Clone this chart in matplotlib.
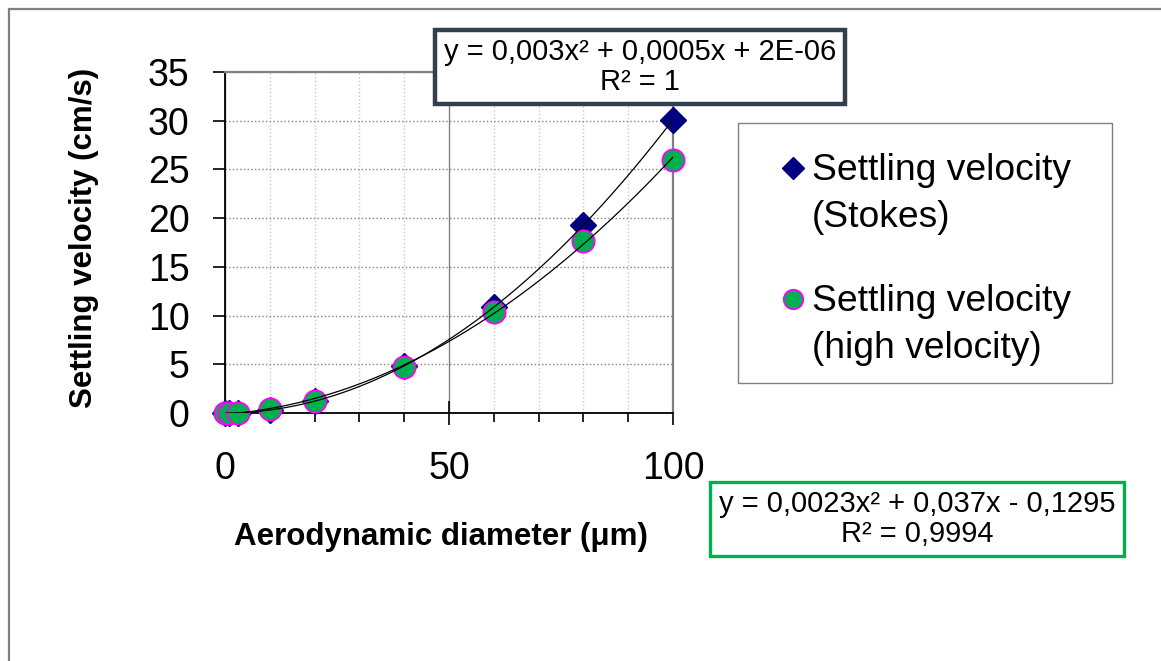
import numpy as np
import matplotlib
matplotlib.use("Agg")
import matplotlib.pyplot as plt
from matplotlib.patches import Rectangle
from matplotlib.lines import Line2D
from matplotlib.ticker import MultipleLocator

plt.rcParams["font.family"] = ["Liberation Sans", "DejaVu Sans"]

# data
diameter_um = [0.1, 1, 3, 10, 20, 40, 60, 80, 100]
v_stokes = [0.0, 0.003, 0.03, 0.3, 1.2, 4.8, 10.9, 19.3, 30.1]
v_high = [0.0, 0.01, 0.05, 0.4, 1.2, 4.7, 10.4, 17.7, 26.0]

label_stokes = ["Settling velocity", "(Stokes)"]
label_high = ["Settling velocity", "(high velocity)"]
fit_stokes_text = "y = 0,003x² + 0,0005x + 2E-06\nR² = 1"
fit_high_text = "y = 0,0023x² + 0,037x - 0,1295\nR² = 0,9994"

NAVY = "#000080"
GREEN = "#00b050"
MAGENTA = "#ff00ff"
GREY = "#808080"

W, H = 1161, 661
fig = plt.figure(figsize=(W / 100, H / 100), dpi=100)


def fx(px):
    return px / W


def fy(py):
    return 1 - py / H


ax = fig.add_axes([fx(225), fy(413), fx(673) - fx(225), fy(72) - fy(413)])

# quadratic trendlines, like the spreadsheet ones
xs = np.linspace(min(diameter_um), max(diameter_um), 300)
for vals in (v_stokes, v_high):
    coef = np.polyfit(diameter_um, vals, 2)
    ax.plot(xs, np.polyval(coef, xs), color="black", lw=0.9, zorder=5)

diamond = dict(marker="D", ms=13.5, color=NAVY)
circle = dict(marker="o", ms=16, mfc=GREEN, mec=MAGENTA, mew=1.3)

ax.plot(diameter_um, v_stokes, ls="none", zorder=3, clip_on=False, **diamond)
ax.plot(diameter_um, v_high, ls="none", zorder=4, clip_on=False, **circle)

ax.set_xlim(0, 100)
ax.set_ylim(0, 35)
ax.xaxis.set_major_locator(MultipleLocator(50))
ax.xaxis.set_minor_locator(MultipleLocator(10))
ax.yaxis.set_major_locator(MultipleLocator(5))

ax.grid(which="minor", axis="x", color="#c8c8c8", ls=":", lw=1)
ax.grid(which="major", axis="x", color=GREY, ls="-", lw=1)
ax.grid(which="major", axis="y", color=GREY, ls=":", lw=1)
ax.set_axisbelow(True)

ax.tick_params(axis="x", which="major", direction="inout", length=17,
               width=1.2, labelsize=27, pad=19)
ax.tick_params(axis="x", which="minor", direction="out", length=6.5,
               width=1.2)
ax.tick_params(axis="y", which="major", direction="out", length=8.6,
               width=1.2, labelsize=27, pad=17)

for side in ("top", "right"):
    ax.spines[side].set_color(GREY)
    ax.spines[side].set_linewidth(1.6)
for side in ("left", "bottom"):
    ax.spines[side].set_color("black")
    ax.spines[side].set_linewidth(1.3)

fig.text(fx(441), fy(537), "Aerodynamic diameter (μm)", ha="center",
         va="center", fontsize=22.5, fontweight="bold")
fig.text(fx(84), fy(238), "Settling velocity (cm/s)", ha="center",
         va="center", rotation=90, fontsize=22.5, fontweight="bold")

# trendline equation boxes
fig.text(fx(640), fy(67), fit_stokes_text, ha="center", va="center",
         fontsize=21, linespacing=1.05, zorder=10,
         bbox=dict(boxstyle="square,pad=0.3", fc="white", ec="#323f4f", lw=3.2))
fig.text(fx(917), fy(519), fit_high_text, ha="center", va="center",
         fontsize=21, linespacing=1.05, zorder=10,
         bbox=dict(boxstyle="square,pad=0.3", fc="white", ec=GREEN, lw=2.4))

# legend drawn by hand so the marker sits on the first text line
fig.patches.append(Rectangle((fx(738), fy(383)), fx(1112) - fx(738),
                             fy(123) - fy(383), transform=fig.transFigure,
                             fill=False, ec=GREY, lw=1))
legend_diamond = dict(diamond, ms=11)
legend_circle = dict(circle, ms=14)
entries = [(label_stokes, legend_diamond, 180), (label_high, legend_circle, 311)]
for lines, style, base in entries:
    fig.lines.append(Line2D([fx(793)], [fy(base - 12)], ls="none",
                            transform=fig.transFigure, **style))
    for i, txt in enumerate(lines):
        fig.text(fx(812), fy(base + 47 * i), txt, ha="left", va="baseline",
                 fontsize=26.8)

# outer chart frame
fig.patches.append(Rectangle((fx(8.5), -0.5), 2, fy(9) + 0.5,
                             transform=fig.transFigure, fill=False,
                             ec=GREY, lw=1.6))

fig.savefig("out.png", dpi=100)
